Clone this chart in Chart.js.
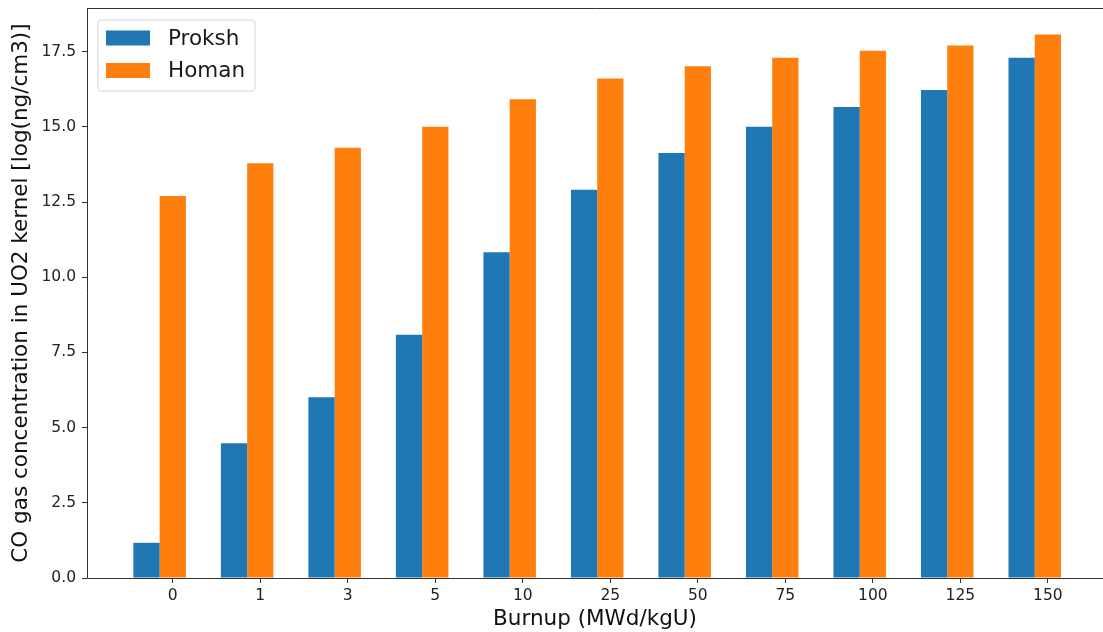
<!DOCTYPE html>
<html>
<head>
<meta charset="utf-8">
<script src="https://cdn.jsdelivr.net/npm/chart.js@4"></script>
<style>
  html, body { margin: 0; padding: 0; background: #fff; overflow: hidden; }
  #wrap { width: 1103px; height: 632px; position: relative; }
</style>
</head>
<body>
<div id="wrap"><canvas id="c" width="1103" height="632"></canvas></div>
<script>
// Burnup steps (MWd/kgU) and CO concentration estimates, log(ng/cm3)
const burnupLabels = ['0', '1', '3', '5', '10', '25', '50', '75', '100', '125', '150'];
const prokshValues = [1.17, 4.48, 6.01, 8.09, 10.83, 12.91, 14.13, 15.0, 15.66, 16.22, 17.3];
const homanValues = [12.7, 13.79, 14.3, 15.0, 15.92, 16.61, 17.01, 17.3, 17.53, 17.7, 18.07];
const yTickValues = [0, 2.5, 5, 7.5, 10, 12.5, 15, 17.5];

const BLUE = '#1f77b4';
const ORANGE = '#ff7f0e';
const FONT = "'DejaVu Sans', sans-serif";

// Each pair is placed so the Homan bar sits on the tick and Proksh to its left
const toPoints = vals => vals.map((v, i) => ({ x: i - 0.15, y: v }));

// Axis frame (left, bottom, top spines)
const framePlugin = {
  id: 'frame',
  afterDraw(chart) {
    const { ctx, chartArea: a } = chart;
    ctx.save();
    ctx.strokeStyle = '#333';
    ctx.lineWidth = 1;
    ctx.beginPath();
    ctx.moveTo(a.left + 0.5, a.top + 0.5);
    ctx.lineTo(chart.width, a.top + 0.5);
    ctx.moveTo(a.left + 0.5, a.top);
    ctx.lineTo(a.left + 0.5, a.bottom + 0.5);
    ctx.lineTo(chart.width, a.bottom + 0.5);
    ctx.stroke();
    ctx.restore();
  }
};

// Boxed legend in the upper-left corner of the plot
const boxLegendPlugin = {
  id: 'boxLegend',
  afterDraw(chart) {
    const { ctx, chartArea: a } = chart;
    const x0 = a.left + 11, y0 = a.top + 12, w = 157, h = 71;
    ctx.save();
    ctx.fillStyle = 'rgba(255,255,255,0.8)';
    ctx.strokeStyle = '#d6d6d6';
    ctx.lineWidth = 1;
    const r = 3;
    ctx.beginPath();
    ctx.moveTo(x0 + r, y0);
    ctx.arcTo(x0 + w, y0, x0 + w, y0 + h, r);
    ctx.arcTo(x0 + w, y0 + h, x0, y0 + h, r);
    ctx.arcTo(x0, y0 + h, x0, y0, r);
    ctx.arcTo(x0, y0, x0 + w, y0, r);
    ctx.closePath();
    ctx.fill();
    ctx.stroke();
    ctx.font = '21.5px ' + FONT;
    ctx.textBaseline = 'middle';
    chart.data.datasets.forEach((ds, i) => {
      const cy = y0 + 18 + i * 32.5;
      ctx.fillStyle = ds.backgroundColor;
      ctx.fillRect(x0 + 8, cy - 7.5, 44, 15);
      ctx.fillStyle = '#1a1a1a';
      ctx.fillText(ds.label, x0 + 70, cy + 1);
    });
    ctx.restore();
  }
};

new Chart(document.getElementById('c'), {
  type: 'bar',
  data: {
    datasets: [
      { label: 'Proksh', data: toPoints(prokshValues), backgroundColor: BLUE, borderWidth: 0 },
      { label: 'Homan', data: toPoints(homanValues), backgroundColor: ORANGE, borderWidth: 0 }
    ]
  },
  options: {
    responsive: false,
    animation: false,
    events: [],
    layout: { padding: { top: 8, right: 0, left: 0, bottom: 0 } },
    datasets: { bar: { categoryPercentage: 0.6, barPercentage: 1.0, grouped: true } },
    plugins: { legend: { display: false }, tooltip: { enabled: false } },
    scales: {
      x: {
        type: 'linear',
        offset: false,
        min: -0.98,
        max: 10.63,
        afterBuildTicks(scale) {
          scale.ticks = burnupLabels.map((_, i) => ({ value: i }));
        },
        afterFit(scale) { scale.height = 54; },
        ticks: {
          callback: v => burnupLabels[v] ?? '',
          color: '#222',
          font: { family: FONT, size: 15.5 },
          padding: 4,
          maxRotation: 0,
          autoSkip: false
        },
        grid: { offset: false, drawOnChartArea: false, tickLength: 5, color: '#333', tickColor: '#333' },
        border: { display: false },
        title: {
          display: true,
          text: 'Burnup (MWd/kgU)',
          color: '#111',
          font: { family: FONT, size: 21.5 },
          padding: { top: 0, bottom: 0 }
        }
      },
      y: {
        type: 'linear',
        min: 0,
        max: 18.95,
        afterBuildTicks(scale) {
          scale.ticks = yTickValues.map(v => ({ value: v }));
        },
        afterFit(scale) {
          scale.width = 87;
          scale.paddingTop = 0;
          scale.paddingBottom = 0;
        },
        ticks: {
          callback: v => v.toFixed(1),
          color: '#222',
          font: { family: FONT, size: 15.5 },
          padding: 6
        },
        grid: { drawOnChartArea: false, tickLength: 5, color: '#333', tickColor: '#333' },
        border: { display: false },
        title: {
          display: true,
          text: 'CO gas concentration in UO2 kernel [log(ng/cm3)]',
          color: '#111',
          font: { family: FONT, size: 21.5 },
          padding: { top: 9, bottom: 0 }
        }
      }
    }
  },
  plugins: [framePlugin, boxLegendPlugin]
});
</script>
</body>
</html>
